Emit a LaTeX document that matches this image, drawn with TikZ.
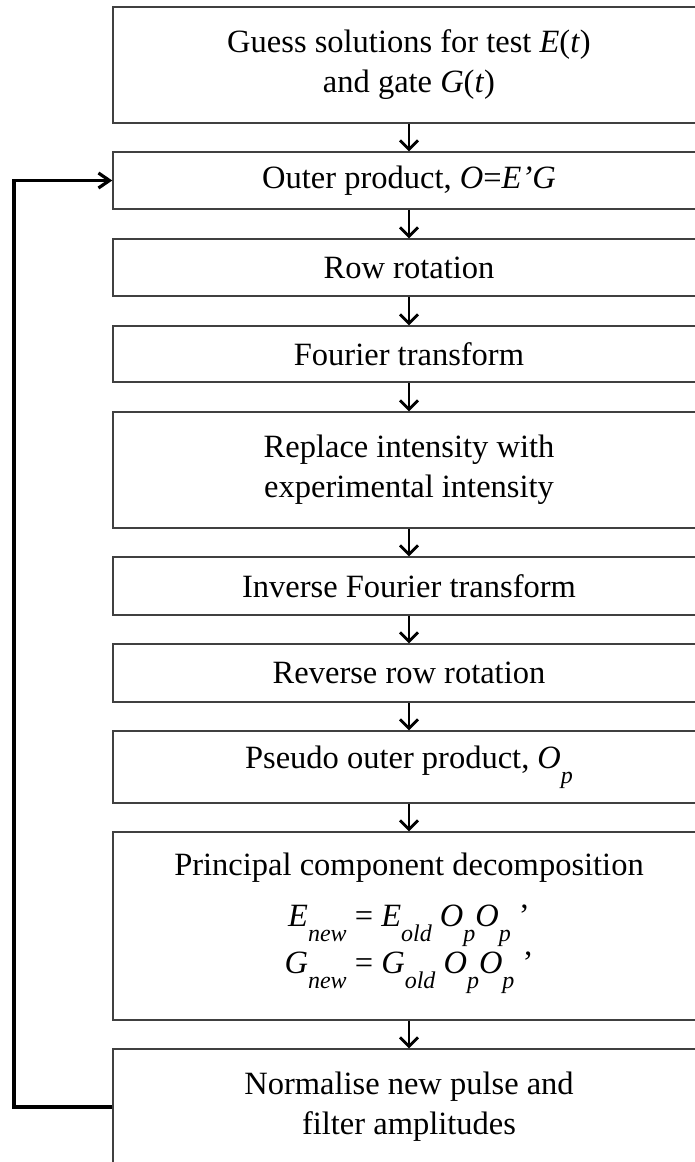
\documentclass[tikz,border=0pt]{standalone}
\usepackage{fontspec}
\setmainfont{Liberation Serif}
\usetikzlibrary{arrows.meta}
\newcommand{\lsub}[1]{\raisebox{-15pt}{\fontsize{24}{24}\selectfont\itshape #1}}
\begin{document}
\begin{tikzpicture}[x=1pt,y=-1pt,
  box/.style={draw=black!75, line width=1.4pt, minimum width=592pt, inner sep=0pt,
    align=center, font=\fontsize{32.5}{40}\selectfont},
  txt/.style={inner sep=0pt, font=\fontsize{32.5}{40}\selectfont, anchor=base},
  flow/.style={line width=2.8pt, -{Straight Barb[length=9pt,width=18pt]}},
  loop/.style={line width=3.2pt, -{Straight Barb[length=11pt,width=15pt]}}]
\useasboundingbox (0,0) rectangle (695,1162);
\clip (0,0) rectangle (695,1162);
\node[box, minimum height=116pt] (b1) at (409,65) {Guess solutions for test \textit{E}(\textit{t})\\and gate \textit{G}(\textit{t})};
\node[box, minimum height=57pt] (b2) at (409,180.5) {Outer product, \textit{O}=\textit{E’G}};
\node[box, minimum height=57pt] (b3) at (409,267.5) {Row rotation};
\node[box, minimum height=56pt] (b4) at (409,354) {Fourier transform};
\node[box, minimum height=116pt] (b5) at (409,470) {Replace intensity with\\experimental intensity};
\node[box, minimum height=58pt] (b6) at (409,586) {Inverse Fourier transform};
\node[box, minimum height=58pt] (b7) at (409,673) {Reverse row rotation};
\node[box, minimum height=72pt] (b8) at (409,767) {Pseudo outer product, \textit{O}\lsub{p}};
\node[box, minimum height=188pt] (b9) at (409,926) {};
\node[txt] (t9a) at (409,875) {Principal component decomposition};
\node[txt] (t9b) at (409,926) {\textit{E}\lsub{new} = \textit{E}\lsub{old} \textit{O}\lsub{p}\textit{O}\lsub{p} ’};
\node[txt] (t9c) at (409,973) {\textit{G}\lsub{new} = \textit{G}\lsub{old} \textit{O}\lsub{p}\textit{O}\lsub{p} ’};
\node[box, minimum height=116pt] (b10) at (409,1107) {Normalise new pulse and\\filter amplitudes};
\foreach \a/\b in {b1/b2,b2/b3,b3/b4,b4/b5,b5/b6,b6/b7,b7/b8,b8/b9,b9/b10}
  \draw[flow] (\a.south) -- (\b.north);
\coordinate (lb) at (14,1107);
\coordinate (lt) at (14,180.5);
\draw[loop] (b10.west) -- (lb) -- (lt) -- (b2.west);
\end{tikzpicture}
\end{document}
